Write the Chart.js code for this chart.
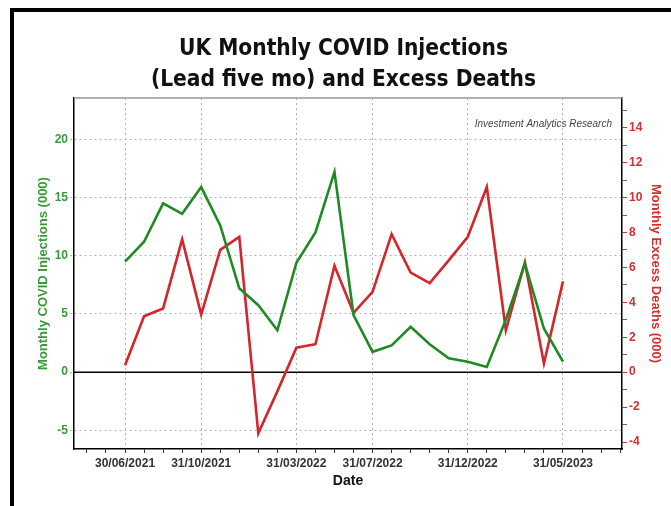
<!DOCTYPE html>
<html><head><meta charset="utf-8">
<script src="https://cdn.jsdelivr.net/npm/chart.js@4.4.1/dist/chart.umd.min.js"></script>
<style>
html,body{margin:0;padding:0;background:#fff;}
#wrap{position:relative;width:671px;height:506px;overflow:hidden;background:#fff;}
#frame{position:absolute;left:10px;top:8px;width:720px;height:560px;border-left:4px solid #000;border-top:4px solid #000;}
canvas{position:absolute;left:0;top:0;}
</style></head><body>
<div id="wrap"><div id="frame"></div><canvas id="c" width="671" height="506"></canvas></div>
<script>
// Month-end dates (x categories)
const months = ['30/06/2021','31/07/2021','31/08/2021','30/09/2021','31/10/2021','30/11/2021','31/12/2021',
  '31/01/2022','28/02/2022','31/03/2022','30/04/2022','31/05/2022','30/06/2022','31/07/2022','31/08/2022',
  '30/09/2022','31/10/2022','30/11/2022','31/12/2022','31/01/2023','28/02/2023','31/03/2023','30/04/2023','31/05/2023'];
// Monthly COVID injections (000), lead five months
const injections = [9.5,11.2,14.5,13.6,15.9,12.6,7.2,5.75,3.6,9.4,12.0,17.2,4.9,1.75,2.3,3.9,2.4,1.2,0.9,0.45,4.5,9.3,3.75,0.9];
// Monthly excess deaths (000)
const excessDeaths = [0.4,3.2,3.65,7.6,3.3,7.0,7.75,-3.5,-1.1,1.4,1.6,6.1,3.4,4.6,7.9,5.7,5.1,6.4,7.75,10.6,2.4,6.3,0.5,5.2];
// Tick labels
const xTickLabels = ['30/06/2021','31/10/2021','31/03/2022','31/07/2022','31/12/2022','31/05/2023'];
const leftTicks = [-5,0,5,10,15,20];
const rightTicks = [-4,-3,-2,-1,0,1,2,3,4,5,6,7,8,9,10,11,12,13,14,15];
const xMinorTicks = [-2,-1,0,1,2,3,4,5,6,7,8,9,10,11,12,13,14,15,16,17,18,19,20,21,22,23,24,25,26];

const GREEN = '#1f8a24';
const GREEN_TXT = '#3a9a3a';
const RED = '#d3262b';
const RED_TXT = '#d0302f';
const GRID = '#b4b4b4';

const isLabelled = v => xTickLabels.includes(months[v]);

const extras = {
  id: 'extras',
  beforeDatasetsDraw(chart) {
    const {ctx, chartArea: a, scales} = chart;
    const y0 = scales.y.getPixelForValue(0);
    ctx.save();
    ctx.strokeStyle = '#000';
    ctx.lineWidth = 1.5;
    ctx.beginPath(); ctx.moveTo(a.left, y0); ctx.lineTo(a.right, y0); ctx.stroke();
    ctx.strokeStyle = '#999';
    ctx.lineWidth = 1.5;
    ctx.beginPath(); ctx.moveTo(a.left, a.top); ctx.lineTo(a.right, a.top); ctx.stroke();
    ctx.fillStyle = '#444';
    ctx.font = 'italic 10px "Liberation Sans", Arial, sans-serif';
    ctx.textAlign = 'right';
    ctx.textBaseline = 'middle';
    ctx.fillText('Investment Analytics Research', a.right - 10, a.top + 26);
    ctx.restore();
  }
};

new Chart(document.getElementById('c'), {
  type: 'line',
  data: {
    datasets: [
      { label: 'Monthly COVID Injections (000)', data: injections.map((v,i)=>({x:i,y:v})),
        borderColor: GREEN, borderWidth: 2.6, pointRadius: 0, tension: 0, yAxisID: 'y' },
      { label: 'Monthly Excess Deaths (000)', data: excessDeaths.map((v,i)=>({x:i,y:v})),
        borderColor: RED, borderWidth: 2.6, pointRadius: 0, tension: 0, yAxisID: 'y1' }
    ]
  },
  options: {
    responsive: false,
    animation: false,
    layout: { padding: { left: 16, right: 0, top: 0, bottom: 0 } },
    plugins: {
      legend: { display: false },
      tooltip: { enabled: false },
      title: {
        display: true,
        text: ['UK Monthly COVID Injections', '(Lead five mo) and Excess Deaths'],
        color: '#111',
        font: { family: '"DejaVu Sans Condensed", "DejaVu Sans", sans-serif', size: 22.5, weight: '600', lineHeight: 1.38 },
        padding: { top: 33.5, bottom: 2.4 }
      }
    },
    scales: {
      x: {
        type: 'linear', min: -2.68, max: 26.1,
        afterFit: s => { s.height = 57; },
        afterBuildTicks: s => { s.ticks = xMinorTicks.map(v => ({value: v})); },
        ticks: {
          autoSkip: false, maxRotation: 0, padding: 3,
          color: '#333', font: { family: '"Liberation Sans", Arial, sans-serif', size: 12, weight: 'bold' },
          callback: v => isLabelled(v) ? months[v] : ''
        },
        grid: {
          color: c => (c.tick && isLabelled(c.tick.value)) ? GRID : 'rgba(0,0,0,0)',
          tickColor: '#333', tickLength: 4, lineWidth: 1
        },
        border: { display: true, color: '#000', width: 1.5, dash: [2, 3] },
        title: { display: true, text: 'Date', color: '#111',
          font: { family: '"Liberation Sans", Arial, sans-serif', size: 14, weight: 'bold' },
          padding: { top: 0, bottom: 16.6 } }
      },
      y: {
        position: 'left', min: -6.6, max: 23.55,
        afterFit: s => { s.width = 58; },
        afterBuildTicks: s => { s.ticks = leftTicks.map(v => ({value: v})); },
        ticks: { padding: 2, color: GREEN_TXT,
          font: { family: '"Liberation Sans", Arial, sans-serif', size: 12, weight: 'bold' } },
        grid: { color: c => (c.tick && c.tick.value === 0) ? 'rgba(0,0,0,0)' : GRID,
          tickColor: GRID, tickLength: 4, tickBorderDash: [2, 2], lineWidth: 1 },
        border: { display: true, color: '#000', width: 1.5, dash: [2, 3] },
        title: { display: true, text: 'Monthly COVID Injections (000)', color: GREEN_TXT,
          font: { family: '"Liberation Sans", Arial, sans-serif', size: 13, weight: 'bold' },
          padding: { top: 20, bottom: 0 } }
      },
      y1: {
        position: 'right', min: -4.4, max: 15.7,
        afterFit: s => { s.width = 49; },
        afterBuildTicks: s => { s.ticks = rightTicks.map(v => ({value: v})); },
        ticks: { autoSkip: false, padding: 2, color: RED_TXT,
          font: { family: '"Liberation Sans", Arial, sans-serif', size: 12, weight: 'bold' },
          callback: v => (v % 2 === 0) ? String(v) : '' },
        grid: { drawOnChartArea: false, tickLength: 5,
          tickColor: c => (c.tick && c.tick.value % 2 === 0) ? RED_TXT : '#666' },
        border: { display: true, color: '#000', width: 1.5 },
        title: { display: true, text: 'Monthly Excess Deaths (000)', color: RED_TXT,
          font: { family: '"Liberation Sans", Arial, sans-serif', size: 13, weight: 'bold' },
          padding: { top: 8, bottom: 0 } }
      }
    }
  },
  plugins: [extras]
});
</script>
</body></html>
